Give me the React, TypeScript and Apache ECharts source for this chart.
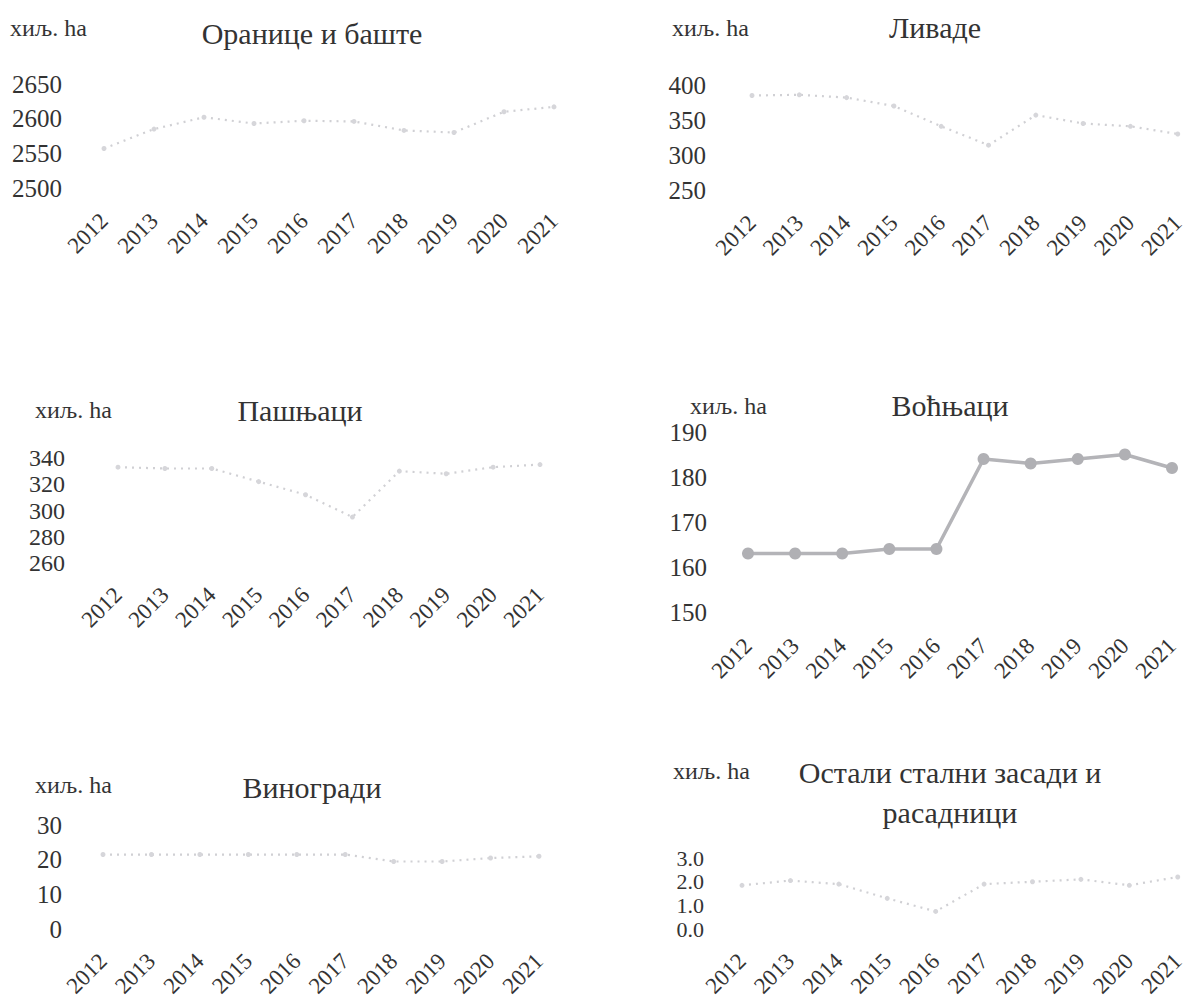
import React, { useEffect, useRef } from "react";
import * as echarts from "echarts";

const years = ["2012", "2013", "2014", "2015", "2016", "2017", "2018", "2019", "2020", "2021"];

const arableValues = [2557, 2585, 2602, 2593, 2597, 2596, 2583, 2580, 2610, 2617];
const meadowValues = [385, 386, 382, 370, 341, 314, 357, 345, 341, 330];
const pastureValues = [333, 332, 332, 322, 312, 295, 330, 328, 333, 335];
const orchardValues = [163, 163, 163, 164, 164, 184, 183, 184, 185, 182];
const vineyardValues = [21.5, 21.5, 21.5, 21.5, 21.5, 21.5, 19.5, 19.5, 20.5, 21];
const otherValues = [1.85, 2.05, 1.9, 1.3, 0.75, 1.9, 2.0, 2.1, 1.85, 2.2];

const unitLabel = "хиљ. ha";
const titles = [
  ["Оранице и баште"],
  ["Ливаде"],
  ["Пашњаци"],
  ["Воћњаци"],
  ["Виногради"],
  ["Остали стални засади и", "расадници"],
];

const yMins = [2500, 250, 260, 150, 0, 0];
const yMaxs = [2650, 400, 340, 190, 30, 3];
const yIntervals = [50, 50, 20, 10, 10, 1];
const yDecimals = [0, 0, 0, 0, 0, 1];

const seriesData = [arableValues, meadowValues, pastureValues, orchardValues, vineyardValues, otherValues];

// layout per panel (pixels)
const grids = [
  { left: 104, top: 84, width: 450, height: 104, labelMargin: 42, ySize: 25, xMargin: 29 },
  { left: 752, top: 85, width: 433, height: 105, labelMargin: 46, ySize: 25, xMargin: 29 },
  { left: 118, top: 458, width: 422, height: 105, labelMargin: 53, ySize: 24, xMargin: 28 },
  { left: 748, top: 432, width: 424, height: 180, labelMargin: 41, ySize: 25, xMargin: 30 },
  { left: 103, top: 825, width: 436, height: 110, labelMargin: 41, ySize: 25, xMargin: 28 },
  { left: 742, top: 858, width: 438, height: 77, labelMargin: 38, ySize: 22, xMargin: 28 },
];

const unitPos = [
  [10, 28],
  [672, 28],
  [35, 410],
  [690, 406],
  [35, 785],
  [673, 771],
];
const titlePos = [
  [312, 33],
  [935, 27],
  [300, 410],
  [950, 405],
  [312, 787],
  [950, 772],
];

const FONT = "Liberation Serif, DejaVu Serif, serif";
const TEXT = "#333333";

export default function App() {
  const ref = useRef<HTMLDivElement>(null);

  useEffect(() => {
    if (!ref.current) return;
    const chart = echarts.init(ref.current, undefined, { renderer: "svg" });

    const gridOpts = grids.map((g) => ({
      left: g.left,
      top: g.top,
      width: g.width,
      height: g.height,
      containLabel: false,
    }));

    const xAxes = grids.map((g, i) => ({
      type: "category",
      gridIndex: i,
      data: years,
      boundaryGap: false,
      axisLine: { show: false },
      axisTick: { show: false },
      splitLine: { show: false },
      axisLabel: {
        rotate: 45,
        margin: g.xMargin,
        fontSize: 23,
        fontFamily: FONT,
        color: TEXT,
        interval: 0,
        hideOverlap: false,
      },
    }));

    const yAxes = grids.map((g, i) => ({
      type: "value",
      gridIndex: i,
      min: yMins[i],
      max: yMaxs[i],
      interval: yIntervals[i],
      axisLine: { show: false },
      axisTick: { show: false },
      splitLine: { show: false },
      axisLabel: {
        margin: g.labelMargin,
        fontSize: g.ySize,
        fontFamily: FONT,
        color: TEXT,
        showMinLabel: true,
        showMaxLabel: true,
        hideOverlap: false,
        formatter: (v: number) => v.toFixed(yDecimals[i]),
      },
    }));

    const series = seriesData.map((d, i) => {
      const strong = i === 3;
      return {
        type: "line",
        xAxisIndex: i,
        yAxisIndex: i,
        data: d,
        smooth: false,
        symbol: "circle",
        symbolSize: strong ? 12 : 5,
        showSymbol: true,
        lineStyle: strong
          ? { color: "#b4b4b8", width: 3.5 }
          : { color: "#d0d0d4", width: 2.2, type: [2, 5] },
        itemStyle: strong ? { color: "#b0b0b4" } : { color: "#d6d6da" },
      };
    });

    const graphics: any[] = [];
    unitPos.forEach(([x, y]) => {
      graphics.push({
        type: "text",
        x,
        y,
        style: {
          text: unitLabel,
          fontSize: 24,
          fontFamily: FONT,
          fill: TEXT,
          align: "left",
          verticalAlign: "middle",
        },
      });
    });
    titles.forEach((lines, i) => {
      const [x, y] = titlePos[i];
      lines.forEach((line, j) => {
        graphics.push({
          type: "text",
          x,
          y: y + j * 40,
          style: {
            text: line,
            fontSize: 30,
            fontFamily: FONT,
            fill: TEXT,
            align: "center",
            verticalAlign: "middle",
          },
        });
      });
    });

    chart.setOption({
      animation: false,
      backgroundColor: "#ffffff",
      grid: gridOpts,
      xAxis: xAxes,
      yAxis: yAxes,
      series,
      graphic: graphics,
    });

    return () => chart.dispose();
  }, []);

  return (
    <div
      ref={ref}
      style={{ position: "absolute", left: 0, top: 0, width: 1188, height: 1000, background: "#fff" }}
    />
  );
}
